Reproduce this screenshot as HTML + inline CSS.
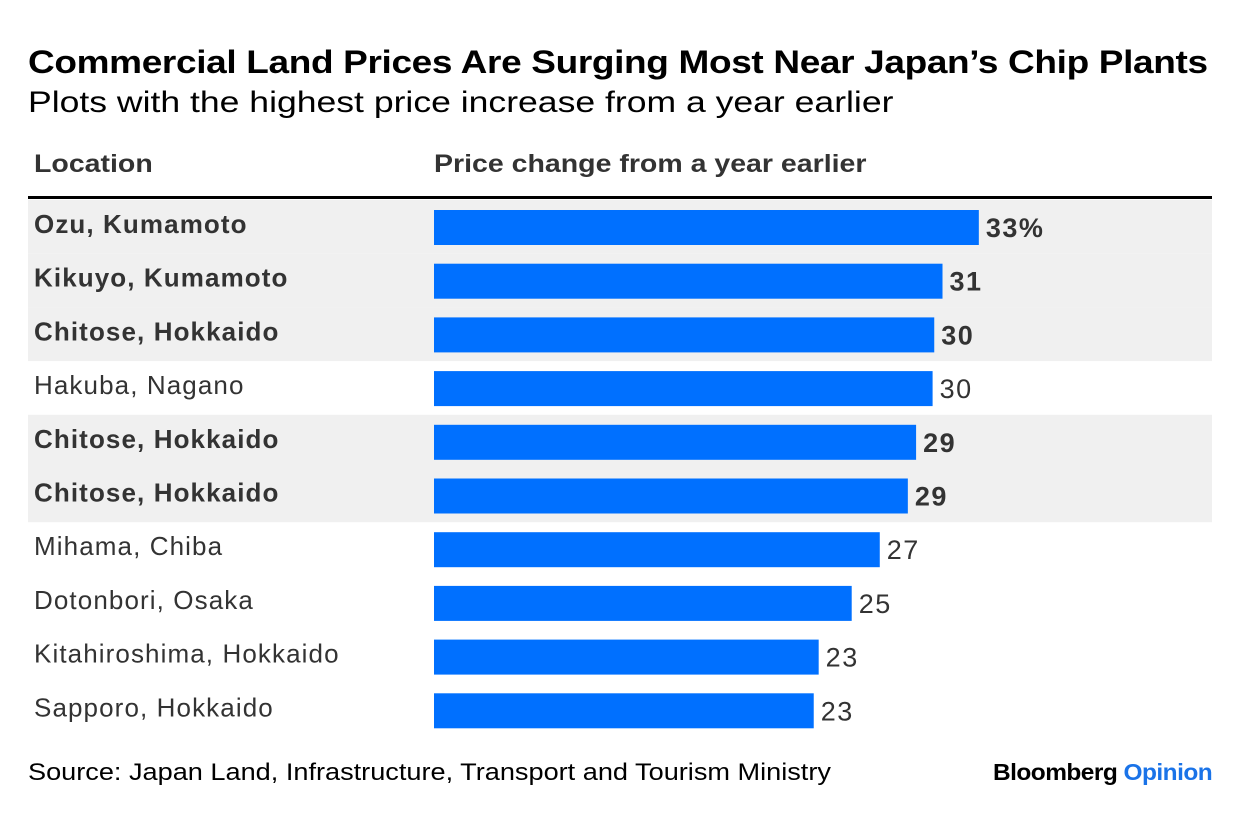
<!DOCTYPE html>
<html><head><meta charset="utf-8"><style>
body{margin:0;width:1240px;height:832px;background:#fff;font-family:"Liberation Sans",sans-serif;color:#333;position:relative;overflow:hidden}
.t{position:absolute;white-space:nowrap;transform-origin:0 0}
</style></head><body>
<div class="t" style="left:28px;top:44px;font-size:32px;font-weight:bold;color:#000;letter-spacing:-0.3px;transform:scaleX(1.156)">Commercial Land Prices Are Surging Most Near Japan’s Chip Plants</div>
<div class="t" style="left:28px;top:86px;font-size:30px;color:#000;transform:scaleX(1.185)">Plots with the highest price increase from a year earlier</div>
<div class="t" style="left:34px;top:150px;font-size:25px;font-weight:bold;transform:scaleX(1.14)">Location</div>
<div class="t" style="left:434px;top:150px;font-size:25px;font-weight:bold;transform:scaleX(1.14)">Price change from a year earlier</div>
<svg id="c" width="1240" height="832" style="position:absolute;left:0;top:0"></svg>
<div class="t" style="left:28px;top:759px;font-size:24px;color:#000;transform:scaleX(1.13)">Source: Japan Land, Infrastructure, Transport and Tourism Ministry</div>
<div class="t" style="left:993px;top:759px;font-size:23px;font-weight:bold;color:#000;letter-spacing:-0.5px;transform:scaleX(1.063)">Bloomberg <span style="color:#1a73e8">Opinion</span></div>
<script>
const locations=["Ozu, Kumamoto","Kikuyo, Kumamoto","Chitose, Hokkaido","Hakuba, Nagano","Chitose, Hokkaido","Chitose, Hokkaido","Mihama, Chiba","Dotonbori, Osaka","Kitahiroshima, Hokkaido","Sapporo, Hokkaido"];
const values=[33.0,30.8,30.3,30.2,29.2,28.7,27.0,25.3,23.3,23.0];
const labels=["33%","31","30","30","29","29","27","25","23","23"];
const highlighted=[1,1,1,0,1,1,0,0,0,0];
const NS="http://www.w3.org/2000/svg";
const svg=document.getElementById('c');
const x=v=>434+v*16.51;
const rowTop=i=>200+i*53.7;
function mk(t,a){const e=document.createElementNS(NS,t);for(const k in a)e.setAttribute(k,a[k]);svg.appendChild(e);return e;}
locations.forEach((l,i)=>{
 if(highlighted[i]){const b=mk('rect',{x:28,y:rowTop(i),width:1184,height:53.7,fill:'#f0f0f0'});
 
 }
});
const ln=mk('rect',{x:28,y:196,width:1184,height:3,fill:'#000'});


locations.forEach((l,i)=>{
 const y=rowTop(i);
 const t=mk('text',{x:34,y:y+33,'font-size':26,'letter-spacing':1.1,fill:'#333','font-weight':highlighted[i]?'bold':'normal'});
 t.textContent=l;
 
 
 const r=mk('rect',{x:434,y:y+10,width:x(values[i])-434,height:35,fill:'#0070ff'});
 
 
 const v=mk('text',{x:x(values[i])+7,y:y+37,'font-size':27,'letter-spacing':1.5,fill:'#333','font-weight':highlighted[i]?'bold':'normal'});
 v.textContent=labels[i];
 
 
});
</script>
</body></html>
